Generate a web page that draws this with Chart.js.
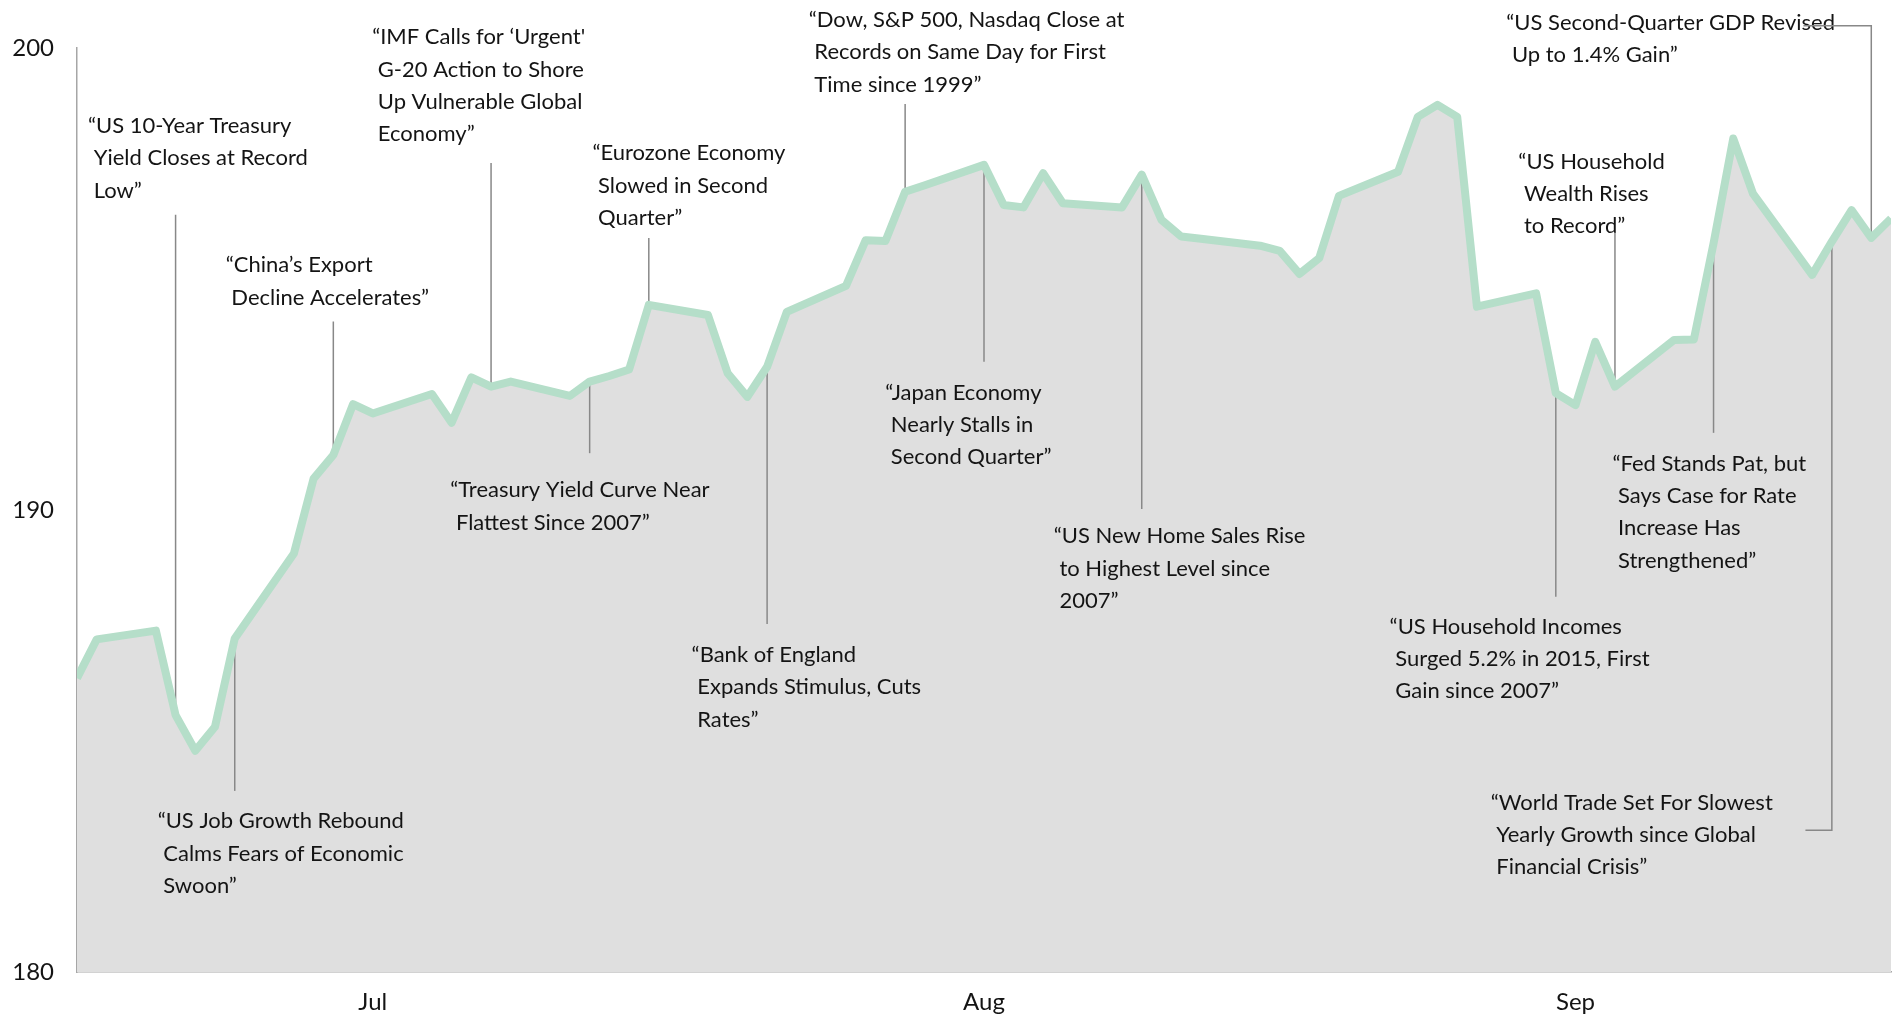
<!DOCTYPE html>
<html lang="en">
<head>
  <meta charset="utf-8">
  <title>Headlines along the line, Jun 30 - Sep 30 2016</title>
  <script src="https://cdn.jsdelivr.net/npm/chart.js@4.4.1/dist/chart.umd.min.js"></script>
  <style>
    body { margin: 0; background: #fff; }
  </style>
</head>
<body>
  <canvas id="c" width="1898" height="1016"></canvas>
  <script>
    // daily closes
    var dates = [
      '2016-06-30', '2016-07-01', '2016-07-04', '2016-07-05', '2016-07-06', '2016-07-07', '2016-07-08',
      '2016-07-11', '2016-07-12', '2016-07-13', '2016-07-14', '2016-07-15',
      '2016-07-18', '2016-07-19', '2016-07-20', '2016-07-21', '2016-07-22',
      '2016-07-25', '2016-07-26', '2016-07-27', '2016-07-28', '2016-07-29',
      '2016-08-01', '2016-08-02', '2016-08-03', '2016-08-04', '2016-08-05',
      '2016-08-08', '2016-08-09', '2016-08-10', '2016-08-11', '2016-08-12',
      '2016-08-15', '2016-08-16', '2016-08-17', '2016-08-18', '2016-08-19',
      '2016-08-22', '2016-08-23', '2016-08-24', '2016-08-25', '2016-08-26',
      '2016-08-29', '2016-08-30', '2016-08-31', '2016-09-01', '2016-09-02',
      '2016-09-05', '2016-09-06', '2016-09-07', '2016-09-08', '2016-09-09',
      '2016-09-12', '2016-09-13', '2016-09-14', '2016-09-15', '2016-09-16',
      '2016-09-19', '2016-09-20', '2016-09-21', '2016-09-22', '2016-09-23',
      '2016-09-26', '2016-09-27', '2016-09-28', '2016-09-29', '2016-09-30'
    ];
    var closes = [
      186.36, 187.20, 187.39, 185.56, 184.79, 185.31, 187.22,
      189.06, 190.68, 191.19, 192.29, 192.09,
      192.51, 191.89, 192.87, 192.67, 192.78,
      192.47, 192.78, 192.90, 193.04, 194.44,
      194.22, 192.96, 192.45, 193.10, 194.29,
      194.85, 195.84, 195.82, 196.89, 197.03,
      197.47, 196.60, 196.55, 197.29, 196.64,
      196.55, 197.26, 196.28, 195.92, 195.87,
      195.72, 195.61, 195.11, 195.45, 196.80,
      197.32, 198.51, 198.77, 198.51, 194.40,
      194.69, 192.53, 192.27, 193.64, 192.67,
      193.68, 193.69, 195.77, 198.04, 196.85,
      195.09, 195.81, 196.49, 195.89, 196.31
    ];
    var monthTicks = ['2016-07-15', '2016-08-15', '2016-09-14'];
    var monthNames = ['Jul', 'Aug', 'Sep'];
    var yTicks = [180, 190, 200];

    // headline boxes: at = [day, value] of the first text line, tip = where the leader ends
    var headlines = [
      { date: '2016-07-05', at: [0.56, 198.31], tip: 196.39,
        lines: ['“US 10-Year Treasury', ' Yield Closes at Record', ' Low”'] },
      { date: '2016-07-08', at: [4.09, 183.26], tip: 183.92,
        lines: ['“US Job Growth Rebound', ' Calms Fears of Economic', ' Swoon”'] },
      { date: '2016-07-13', at: [7.54, 195.30], tip: 194.08,
        lines: ['“China’s Export', ' Decline Accelerates”'] },
      { date: '2016-07-21', at: [14.97, 200.23], tip: 197.51,
        lines: ['“IMF Calls for ‘Urgent\'', ' G-20 Action to Shore', ' Up Vulnerable Global', ' Economy”'] },
      { date: '2016-07-26', at: [18.93, 190.43], tip: 191.23,
        lines: ['“Treasury Yield Curve Near', ' Flattest Since 2007”'] },
      { date: '2016-07-29', at: [26.14, 197.72], tip: 195.89,
        lines: ['“Eurozone Economy', ' Slowed in Second', ' Quarter”'] },
      { date: '2016-08-04', at: [31.17, 186.86], tip: 187.53,
        lines: ['“Bank of England', ' Expands Stimulus, Cuts', ' Rates”'] },
      { date: '2016-08-11', at: [37.11, 200.61], tip: 198.79,
        lines: ['“Dow, S&P 500, Nasdaq Close at', ' Records on Same Day for First', ' Time since 1999”'] },
      { date: '2016-08-15', at: [40.99, 192.54], tip: 193.21,
        lines: ['“Japan Economy', ' Nearly Stalls in', ' Second Quarter”'] },
      { date: '2016-08-23', at: [49.54, 189.43], tip: 190.02,
        lines: ['“US New Home Sales Rise', ' to Highest Level since', ' 2007”'] },
      { date: '2016-09-29', at: [72.49, 200.55], tip: 200.48, elbow: 87.56,
        lines: ['“US Second-Quarter GDP Revised', ' Up to 1.4% Gain”'] },
      { date: '2016-09-16', at: [73.10, 197.54], tip: 196.0,
        lines: ['“US Household', ' Wealth Rises', ' to Record”'] },
      { date: '2016-09-21', at: [77.87, 191.0], tip: 191.67,
        lines: ['“Fed Stands Pat, but', ' Says Case for Rate', ' Increase Has', ' Strengthened”'] },
      { date: '2016-09-13', at: [66.57, 187.48], tip: 188.12,
        lines: ['“US Household Incomes', ' Surged 5.2% in 2015, First', ' Gain since 2007”'] },
      { date: '2016-09-27', at: [71.70, 183.67], tip: 183.07, elbow: 87.66,
        lines: ['“World Trade Set For Slowest', ' Yearly Growth since Global', ' Financial Crisis”'] }
    ];

    var t0 = Date.parse(dates[0]);
    function dayOf(d) { return (Date.parse(d) - t0) / 86400000; }

    var points = dates.map(function (d, i) { return { x: dayOf(d), y: closes[i] }; });

    var headlinePlugin = {
      id: 'headlines',
      beforeDatasetsDraw: function (chart) {
        var ctx = chart.ctx, xs = chart.scales.x, ys = chart.scales.y;
        ctx.save();
        headlines.forEach(function (h) {
          var px = xs.getPixelForValue(dayOf(h.date));
          var v = closes[dates.indexOf(h.date)];
          ctx.fillStyle = '#141414';
          ctx.font = '22px Lato';
          ctx.textAlign = 'left';
          ctx.textBaseline = 'middle';
          var tx = xs.getPixelForValue(h.at[0]), ty = ys.getPixelForValue(h.at[1]);
          h.lines.forEach(function (t, i) {
            ctx.fillText(t, tx, ty + i * 32.3);
          });
          ctx.strokeStyle = '#888888';
          ctx.lineWidth = 1.5;
          ctx.beginPath();
          ctx.moveTo(px, ys.getPixelForValue(v));
          ctx.lineTo(px, ys.getPixelForValue(h.tip));
          if (h.elbow !== undefined) {
            ctx.lineTo(xs.getPixelForValue(h.elbow), ys.getPixelForValue(h.tip));
          }
          ctx.stroke();
        });
        ctx.restore();
      }
    };

    new Chart(document.getElementById('c'), {
      type: 'line',
      data: {
        datasets: [{
          data: points,
          borderColor: '#b5dec9',
          borderWidth: 8,
          borderJoinStyle: 'round',
          backgroundColor: '#dfdfdf',
          fill: 'start',
          pointRadius: 0,
          tension: 0
        }]
      },
      options: {
        responsive: false,
        animation: false,
        layout: { padding: { top: 48, right: 7, left: 0, bottom: 0 } },
        plugins: {
          legend: { display: false },
          tooltip: { enabled: false },
          filler: { drawTime: 'beforeDatasetsDraw' }
        },
        scales: {
          x: {
            type: 'linear',
            min: 0,
            max: dayOf(dates[dates.length - 1]),
            grid: { display: false, drawTicks: false },
            border: { display: true, color: '#a6a6a6', width: 1.5 },
            afterBuildTicks: function (scale) {
              scale.ticks = monthTicks.map(function (d) { return { value: dayOf(d) }; });
            },
            afterFit: function (scale) { scale.height = 44; },
            ticks: {
              autoSkip: false,
              maxRotation: 0,
              padding: 16,
              color: '#141414',
              font: { family: 'Lato', size: 24 },
              callback: function (value) {
                var i = monthTicks.map(dayOf).indexOf(value);
                return i >= 0 ? monthNames[i] : '';
              }
            }
          },
          y: {
            min: 180,
            max: 200,
            grid: { display: false, drawTicks: false },
            border: { display: true, color: '#a6a6a6', width: 1.5 },
            afterBuildTicks: function (scale) {
              scale.ticks = yTicks.map(function (v) { return { value: v }; });
            },
            afterFit: function (scale) { scale.width = 77; },
            ticks: {
              padding: 23,
              color: '#141414',
              font: { family: 'Lato', size: 24 }
            }
          }
        }
      },
      plugins: [headlinePlugin]
    });
  </script>
</body>
</html>
